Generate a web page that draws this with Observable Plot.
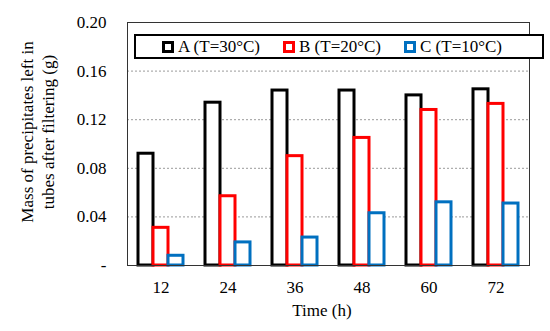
<!DOCTYPE html>
<html>
<head>
<meta charset="utf-8">
<script src="https://cdn.jsdelivr.net/npm/d3@7"></script>
<script src="https://cdn.jsdelivr.net/npm/@observablehq/plot@0.6"></script>
<style>
  html, body { margin: 0; padding: 0; background: white; }
  #wrap { position: relative; width: 550px; height: 331px; font-family: "Liberation Serif", "DejaVu Serif", serif; color: #000; }
  #wrap svg text { font-family: "Liberation Serif", "DejaVu Serif", serif !important; font-size: 17px; }
  #legend { position: absolute; left: 134px; top: 34px; width: 380px; height: 21px; border: 2px solid #000; background: white;
    display: flex; align-items: center; padding-left: 26px; box-sizing: content-box; font-size: 17px; }
  #legend .item { display: flex; align-items: center; width: 121px; white-space: nowrap; }
  #legend .sw { width: 6px; height: 6px; border: 3px solid; margin-right: 4px; background: white; }
  #ylabel { position: absolute; left: -77.5px; top: 111px; width: 230px; height: 42px; line-height: 21px; font-size: 17px;
    text-align: center; transform: rotate(-90deg); transform-origin: 50% 50%; white-space: pre; }
  #xlabel { position: absolute; left: 222px; top: 301px; width: 200px; line-height: 20px; font-size: 17px; text-align: center; }
</style>
</head>
<body>
<div id="wrap"></div>
<script>
const times = [12, 24, 36, 48, 60, 72];
const seriesNames = ["A (T=30°C)", "B (T=20°C)", "C (T=10°C)"];
const valuesA = [0.092, 0.134, 0.144, 0.144, 0.140, 0.145];
const valuesB = [0.031, 0.057, 0.090, 0.105, 0.128, 0.133];
const valuesC = [0.008, 0.019, 0.023, 0.043, 0.052, 0.051];
const seriesColors = ["#000000", "#ff0000", "#0070c0"];
const yTicks = [0, 0.04, 0.08, 0.12, 0.16, 0.20];
const gridTicks = [0.04, 0.08, 0.12, 0.16];
const yLabel = "Mass of precipitates left in\ntubes after filtering (g)";
const xLabel = "Time (h)";

const allValues = [valuesA, valuesB, valuesC];
const data = [];
times.forEach((t, i) => {
  seriesNames.forEach((s, j) => data.push({time: t, series: s, value: allValues[j][i]}));
});

const font = "'Liberation Serif', 'DejaVu Serif', serif";

const chart = Plot.plot({
  width: 550,
  height: 331,
  marginLeft: 125,
  marginRight: 19,
  marginTop: 22,
  marginBottom: 66,
  style: {fontFamily: font, fontSize: "17px", color: "#000", background: "white", overflow: "visible"},
  fx: {domain: times, padding: 0, label: null, tickSize: 0, tickPadding: 15, axis: "bottom"},
  x: {domain: seriesNames, paddingInner: 0, paddingOuter: 0.67, axis: null},
  y: {domain: [0, 0.2], ticks: yTicks, tickFormat: d => d === 0 ? "-" : d.toFixed(2), tickSize: 0, tickPadding: 21, label: null},
  color: {domain: seriesNames, range: seriesColors},
  marks: [
    Plot.ruleY(gridTicks, {stroke: "#9a9a9a", strokeWidth: 1, strokeDasharray: "2,2"}),
    Plot.barY(data, {fx: "time", x: "series", y: "value", stroke: "series", fill: "white", strokeWidth: 3}),
    Plot.frame({facet: "super", stroke: "#333", strokeWidth: 1})
  ]
});

const wrap = document.getElementById("wrap");
wrap.appendChild(chart);

const yl = document.createElement("div");
yl.id = "ylabel";
yl.textContent = yLabel;
wrap.appendChild(yl);

const xl = document.createElement("div");
xl.id = "xlabel";
xl.textContent = xLabel;
wrap.appendChild(xl);

const legend = document.createElement("div");
legend.id = "legend";
seriesNames.forEach((s, j) => {
  const item = document.createElement("div");
  item.className = "item";
  const sw = document.createElement("span");
  sw.className = "sw";
  sw.style.borderColor = seriesColors[j];
  const tx = document.createElement("span");
  tx.textContent = s;
  item.appendChild(sw);
  item.appendChild(tx);
  legend.appendChild(item);
});
wrap.appendChild(legend);
</script>
</body>
</html>
